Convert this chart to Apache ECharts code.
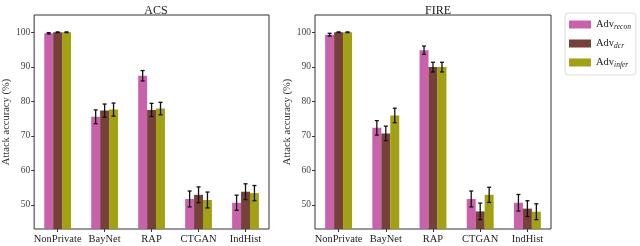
<!DOCTYPE html>
<html><head><meta charset="utf-8">
<script src="https://cdn.jsdelivr.net/npm/echarts@6/dist/echarts.min.js"></script>
<style>html,body{margin:0;padding:0;background:#fff}#c{width:640px;height:246px}</style>
</head><body><div id="c"></div>
<script>
const categories = ['NonPrivate', 'BayNet', 'RAP', 'CTGAN', 'IndHist'];
const panelTitles = ['ACS', 'FIRE'];
const seriesNames = ['recon', 'dcr', 'infer'];
const yTicks = [50, 60, 70, 80, 90, 100];

const acsRecon = [99.7, 75.5, 87.4, 51.7, 50.6];
const acsReconErr = [0.2, 2.0, 1.5, 2.3, 2.2];
const acsDcr = [100, 77.3, 77.5, 52.9, 53.8];
const acsDcrErr = [0.1, 1.9, 1.9, 2.3, 2.3];
const acsInfer = [100, 77.6, 77.9, 51.4, 53.4];
const acsInferErr = [0.1, 1.9, 1.8, 2.3, 2.2];

const fireRecon = [99.3, 72.3, 94.8, 51.7, 50.6];
const fireReconErr = [0.4, 2.1, 1.2, 2.3, 2.4];
const fireDcr = [100, 70.7, 89.9, 48.1, 48.9];
const fireDcrErr = [0.1, 2.1, 1.4, 2.4, 2.3];
const fireInfer = [100, 75.9, 89.9, 52.9, 48.0];
const fireInferErr = [0.1, 2.1, 1.4, 2.2, 2.3];

const colors = ['#c55ba6', '#6f3630', '#9d9b06'];
const FONT = 'Liberation Serif';
const GAP = 0.43;

const panels = [
  {vals: [acsRecon, acsDcr, acsInfer], errs: [acsReconErr, acsDcrErr, acsInferErr]},
  {vals: [fireRecon, fireDcr, fireInfer], errs: [fireReconErr, fireDcrErr, fireInferErr]}
];

const grids = [
  {left: 33, top: 15, width: 236, height: 214, show: true, borderColor: '#333', borderWidth: 1},
  {left: 315, top: 15, width: 236, height: 214, show: true, borderColor: '#333', borderWidth: 1}
];

const xAxis = grids.map((g, i) => ({
  type: 'category', gridIndex: i, data: categories,
  axisLine: {show: false},
  axisTick: {show: true, alignWithLabel: true, length: 3, lineStyle: {color: '#333'}},
  axisLabel: {fontFamily: FONT, fontSize: 10.5, color: '#222', margin: 5, interval: 0, hideOverlap: false}
}));
const yAxis = grids.map((g, i) => ({
  type: 'value', gridIndex: i, min: 43, max: 105,
  name: 'Attack accuracy (%)', nameLocation: 'middle', nameGap: 17,
  nameTextStyle: {fontFamily: FONT, fontSize: 10.5, color: '#333'},
  splitLine: {show: false},
  axisLine: {show: false},
  axisTick: {show: true, length: 3, lineStyle: {color: '#333'},
    customValues: yTicks},
  axisLabel: {fontFamily: FONT, fontSize: 9.5, color: '#444', margin: 4,
    customValues: yTicks}
}));

const series = [];
panels.forEach((p, pi) => {
  seriesNames.forEach((name, si) => {
    series.push({
      name: name, type: 'bar', xAxisIndex: pi, yAxisIndex: pi,
      data: p.vals[si], barGap: '0%', barCategoryGap: (GAP * 100) + '%',
      itemStyle: {color: colors[si], opacity: 0.95}
    });
  });
  seriesNames.forEach((name, si) => {
    const data = p.vals[si].map((v, k) => [k, v, p.errs[si][k]]);
    series.push({
      type: 'custom', xAxisIndex: pi, yAxisIndex: pi, z: 10,
      data: data,
      renderItem: function (params, api) {
        const k = api.value(0), v = api.value(1), e = api.value(2);
        const band = api.size([1, 0])[0];
        const bw = band * (1 - GAP) / 3;
        const c = api.coord([k, v]);
        const x = c[0] + (si - 1) * bw;
        const yLo = api.coord([k, v - e])[1];
        const yHi = api.coord([k, v + e])[1];
        const cap = 2;
        const st = {stroke: '#111', lineWidth: 1.3};
        return {type: 'group', children: [
          {type: 'line', shape: {x1: x, y1: yLo, x2: x, y2: yHi}, style: st},
          {type: 'line', shape: {x1: x - cap, y1: yLo, x2: x + cap, y2: yLo}, style: st},
          {type: 'line', shape: {x1: x - cap, y1: yHi, x2: x + cap, y2: yHi}, style: st}
        ]};
      }
    });
  });
});

const chart = echarts.init(document.getElementById('c'), null, {renderer: 'canvas'});
chart.setOption({
  animation: false,
  backgroundColor: '#fff',
  title: panelTitles.map((t, i) => ({
    text: t, left: grids[i].left + grids[i].width / 2, top: 0, textAlign: 'center',
    textStyle: {fontFamily: FONT, fontSize: 12, fontWeight: 'normal', color: '#222'}
  })),
  legend: {
    data: seriesNames, orient: 'vertical', left: 565, top: 13,
    itemWidth: 22, itemHeight: 8, itemGap: 7,
    padding: [6, 5, 6, 4],
    borderColor: '#ddd', borderWidth: 1, borderRadius: 3, backgroundColor: '#fff',
    icon: 'rect',
    formatter: n => 'Adv{s|' + n + '}',
    textStyle: {fontFamily: FONT, fontSize: 10.5, color: '#222',
      rich: {s: {fontFamily: FONT, fontSize: 7.5, fontStyle: 'italic', color: '#222', padding: [5, 0, 0, 0]}}}
  },
  grid: grids, xAxis: xAxis, yAxis: yAxis, series: series
});
</script></body></html>
